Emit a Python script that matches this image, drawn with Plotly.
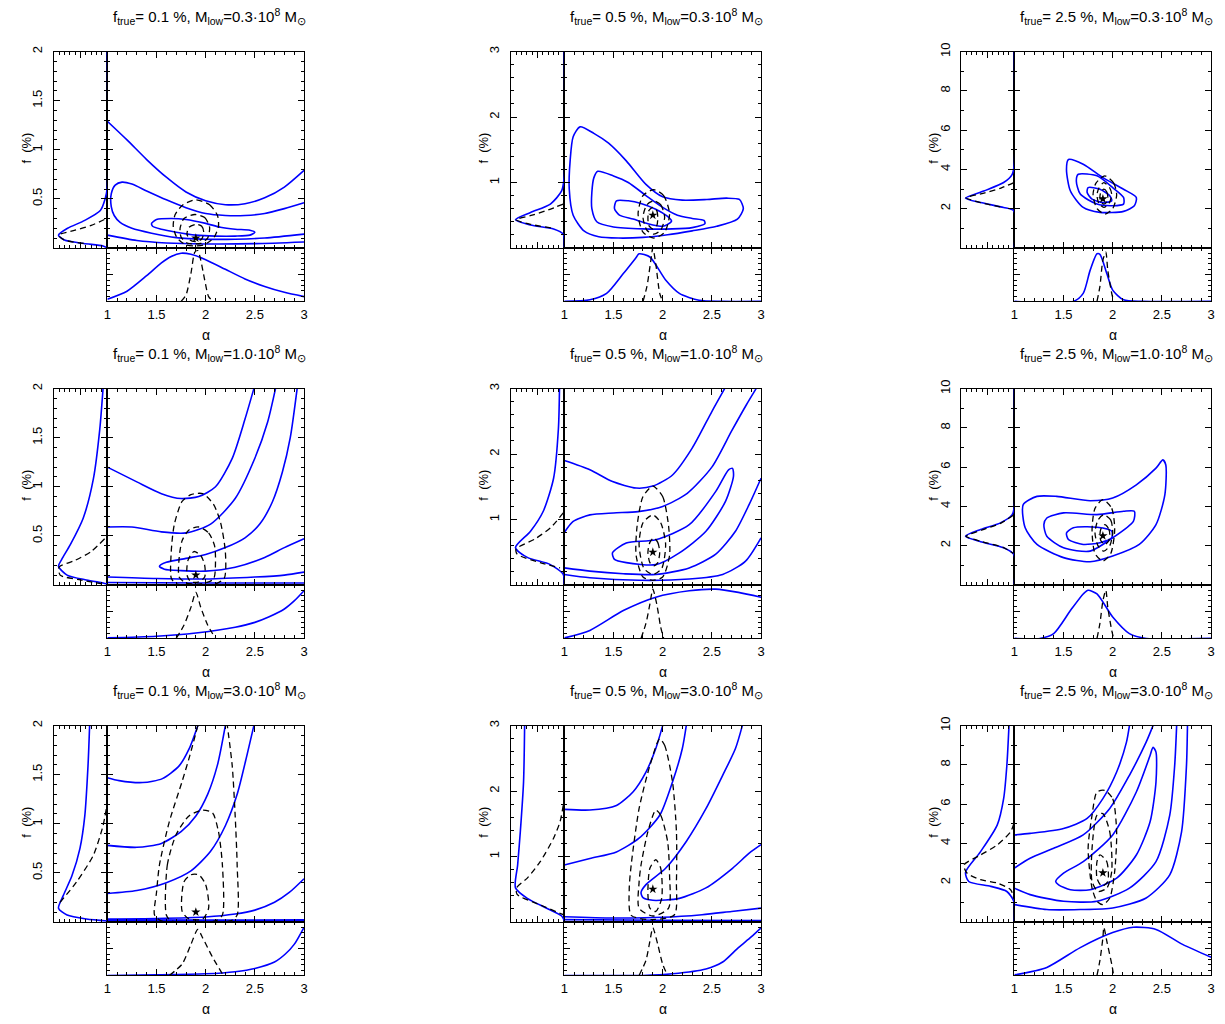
import plotly.graph_objects as go

# ---------------- data ----------------
F_TRUE = [0.1, 0.5, 2.5]
F_TRUE_TXT = ["0.1", "0.5", "2.5"]
M_LOW_TXT = ["0.3", "1.0", "3.0"]
ALPHA_TRUE = 1.9
F_MAX = [2, 3, 10]
Y_TICKS = [[0.5, 1, 1.5, 2], [1, 2, 3], [2, 4, 6, 8, 10]]
Y_TICKTEXT = [["0.5", "1", "1.5", "2"], ["1", "2", "3"], ["2", "4", "6", "8", "10"]]
Y_MINOR = [0.1, 0.2, 1.0]
X_TICKS = [1, 1.5, 2, 2.5, 3]
X_TICKTEXT = ["1", "1.5", "2", "2.5", "3"]

# ---- row 1, col 1 ----
P11_BLUE = [
    [(1.0,1.29),(1.2,1.1),(1.4,0.9),(1.6,0.72),(1.8,0.57),(2.0,0.48),(2.2,0.44),(2.4,0.45),(2.6,0.51),(2.8,0.62),(3.0,0.79)],
    [(1.0,0.13),(1.3,0.075),(1.6,0.05),(2.0,0.04),(2.5,0.043),(3.0,0.06)],
    [(3.0,0.46),(2.8,0.40),(2.6,0.35),(2.4,0.33),(2.2,0.33),(2.0,0.35),(1.8,0.41),(1.6,0.49),(1.4,0.58),(1.25,0.65),(1.15,0.67),(1.08,0.64),(1.04,0.55),(1.04,0.42),(1.07,0.33),(1.13,0.26),(1.25,0.2),(1.45,0.15),(1.7,0.105),(2.0,0.088),(2.3,0.088),(2.6,0.1),(3.0,0.14)],
    [(1.45,0.25),(1.5,0.29),(1.65,0.30),(1.8,0.29),(2.0,0.25),(2.15,0.21),(2.3,0.19),(2.45,0.18),(2.5,0.16),(2.45,0.13),(2.3,0.12),(2.1,0.12),(1.9,0.13),(1.7,0.16),(1.55,0.19),(1.46,0.22),(1.45,0.25)],
]
P11_DASH = [
    [(1.9,0.49),(2.04,0.44),(2.12,0.33),(2.13,0.22),(2.08,0.1),(1.98,0.03),(1.9,0.02),(1.8,0.03),(1.71,0.1),(1.67,0.22),(1.69,0.34),(1.77,0.44),(1.9,0.49)],
    [(1.89,0.34),(1.99,0.31),(2.04,0.21),(2.02,0.1),(1.95,0.045),(1.89,0.04),(1.81,0.05),(1.75,0.11),(1.74,0.2),(1.78,0.3),(1.89,0.34)],
    [(1.9,0.24),(1.96,0.22),(1.98,0.16),(1.96,0.09),(1.9,0.065),(1.84,0.08),(1.81,0.14),(1.83,0.21),(1.9,0.24)],
]
P11_LEFT_BLUE = [(0,2.0),(0,0.62),(0.04,0.5),(0.13,0.38),(0.42,0.28),(0.74,0.2),(0.91,0.13),(0.8,0.08),(0.44,0.045),(0.08,0.02),(0,0.0)]
P11_LEFT_DASH = [(0.44,0.045),(0.8,0.08),(0.91,0.13),(0.6,0.18),(0.3,0.23),(0.05,0.29),(0,0.31)]
P11_BOT_BLUE = [(1.0,0.04),(1.2,0.19),(1.4,0.48),(1.55,0.72),(1.65,0.84),(1.75,0.9),(1.85,0.88),(2.0,0.78),(2.2,0.6),(2.4,0.42),(2.6,0.28),(2.8,0.17),(3.0,0.09)]
P11_BOT_DASH = [(1.75,0.0),(1.80,0.12),(1.85,0.52),(1.89,0.92),(1.92,0.95),(1.95,0.77),(1.99,0.4),(2.03,0.09),(2.08,0.0)]

# ---- row 1, col 2 ----
P12_BLUE = [
    [(1.16,1.85),(1.3,1.75),(1.45,1.6),(1.63,1.33),(1.83,0.97),(2.0,0.78),(2.2,0.73),(2.45,0.74),(2.65,0.76),(2.78,0.74),(2.82,0.6),(2.76,0.44),(2.55,0.33),(2.3,0.26),(2.05,0.2),(1.8,0.16),(1.55,0.15),(1.35,0.17),(1.2,0.26),(1.09,0.5),(1.05,0.9),(1.06,1.35),(1.09,1.7),(1.16,1.85)],
    [(1.34,1.17),(1.5,1.1),(1.65,1.0),(1.83,0.8),(2.0,0.62),(2.15,0.5),(2.3,0.45),(2.42,0.42),(2.43,0.37),(2.3,0.31),(2.1,0.29),(1.8,0.29),(1.5,0.32),(1.33,0.4),(1.28,0.6),(1.28,0.85),(1.3,1.07),(1.34,1.17)],
    [(1.53,0.72),(1.65,0.72),(1.78,0.68),(1.93,0.59),(2.05,0.48),(2.09,0.41),(2.05,0.36),(2.0,0.33),(1.85,0.37),(1.7,0.44),(1.56,0.5),(1.51,0.6),(1.53,0.72)],
]
P12_DASH = [
    [(1.91,0.89),(2.01,0.8),(2.07,0.52),(2.02,0.24),(1.91,0.15),(1.8,0.24),(1.75,0.52),(1.8,0.8),(1.91,0.89)],
    [(1.91,0.72),(1.98,0.66),(2.02,0.47),(1.98,0.27),(1.91,0.21),(1.84,0.27),(1.8,0.47),(1.84,0.66),(1.91,0.72)],
    [(1.9,0.62),(1.94,0.57),(1.95,0.45),(1.94,0.34),(1.9,0.29),(1.86,0.34),(1.85,0.45),(1.86,0.57),(1.9,0.62)],
]
P12_LEFT_BLUE = [(0,3.0),(0,1.1),(0.05,0.87),(0.26,0.67),(0.63,0.54),(0.91,0.43),(0.63,0.35),(0.2,0.29),(0.02,0.21),(0,0.0)]
P12_LEFT_DASH = [(0.02,0.67),(0.3,0.58),(0.6,0.5),(0.9,0.43),(0.63,0.36),(0.2,0.3)]
P12_BOT_BLUE = [(1.0,0.0),(1.26,0.03),(1.43,0.15),(1.6,0.52),(1.73,0.82),(1.76,0.89),(1.87,0.83),(2.03,0.4),(2.17,0.15),(2.37,0.02),(2.6,0.0),(3.0,0.0)]
P12_BOT_DASH = [(1.8,0.0),(1.84,0.28),(1.88,0.77),(1.9,1.0),(1.93,0.7),(1.97,0.15),(2.0,0.0)]

# ---- row 1, col 3 ----
P13_BLUE = [
    [(1.55,4.5),(1.70,4.26),(1.9,3.58),(2.11,2.99),(2.24,2.57),(2.22,2.15),(2.11,1.86),(1.87,1.81),(1.7,2.06),(1.57,2.9),(1.53,4.0),(1.55,4.5)],
    [(1.65,3.75),(1.84,3.67),(2.0,3.07),(2.11,2.57),(2.11,2.23),(2.0,2.15),(1.84,2.23),(1.67,2.74),(1.63,3.41),(1.65,3.75)],
    [(1.75,3.07),(1.87,2.99),(1.97,2.65),(1.99,2.4),(1.9,2.31),(1.79,2.48),(1.74,2.82),(1.75,3.07)],
]
P13_DASH = [
    [(1.92,3.67),(2.01,3.3),(2.04,2.7),(2.0,2.0),(1.92,1.72),(1.84,2.0),(1.8,2.7),(1.83,3.3),(1.92,3.67)],
    [(1.91,3.33),(1.97,3.05),(1.99,2.7),(1.96,2.25),(1.91,2.06),(1.86,2.25),(1.84,2.7),(1.86,3.05),(1.91,3.33)],
    [(1.91,2.99),(1.94,2.85),(1.95,2.6),(1.94,2.35),(1.91,2.23),(1.88,2.35),(1.87,2.6),(1.88,2.85),(1.91,2.99)],
]
P13_LEFT_BLUE = [(0,10),(0,4.3),(0.04,3.75),(0.2,3.33),(0.57,2.9),(0.91,2.53),(0.63,2.31),(0.2,2.06),(0.01,1.89),(0,0)]
P13_LEFT_DASH = [(0.01,3.33),(0.25,3.05),(0.55,2.8),(0.9,2.55),(0.63,2.31),(0.2,2.06)]
P13_BOT_BLUE = [(1.0,0),(1.6,0.0),(1.7,0.15),(1.77,0.58),(1.84,0.89),(1.87,0.88),(1.94,0.52),(2.0,0.21),(2.11,0.03),(2.3,0.0),(3.0,0)]
P13_BOT_DASH = [(1.84,0),(1.87,0.28),(1.9,0.77),(1.93,0.92),(1.95,0.58),(1.99,0.15),(2.01,0)]

# ---- row 2, col 1 ----
P21_BLUE = [
    [(1.0,1.20),(1.3,1.05),(1.55,0.93),(1.75,0.88),(1.93,0.9),(2.1,1.0),(2.27,1.29),(2.4,1.69),(2.49,2.0)],
    [(1.0,0.59),(1.25,0.59),(1.55,0.54),(1.8,0.53),(2.05,0.62),(2.3,0.88),(2.5,1.29),(2.63,1.66),(2.71,2.0)],
    [(2.93,2.0),(2.86,1.5),(2.78,1.15),(2.68,0.85),(2.55,0.62),(2.4,0.48),(2.2,0.38),(2.0,0.31),(1.8,0.27),(1.6,0.23),(1.53,0.19),(1.58,0.16),(1.75,0.145),(2.0,0.14),(2.3,0.18),(2.6,0.28),(2.8,0.38),(3.0,0.47)],
    [(1.0,0.08),(1.5,0.065),(2.0,0.06),(2.5,0.08),(2.8,0.1),(3.0,0.13)],
    [(1.0,0.025),(2.0,0.02),(3.0,0.02)],
]
P21_DASH = [
    [(1.97,0.93),(2.08,0.82),(2.15,0.64),(2.2,0.34),(2.19,0.07),(2.1,0.01),(1.9,0.0),(1.7,0.01),(1.65,0.07),(1.65,0.34),(1.68,0.61),(1.76,0.85),(1.85,0.92),(1.97,0.93)],
    [(1.93,0.59),(2.03,0.53),(2.09,0.4),(2.1,0.24),(2.08,0.06),(1.95,0.01),(1.8,0.02),(1.73,0.08),(1.73,0.27),(1.76,0.45),(1.83,0.56),(1.93,0.59)],
    [(1.88,0.34),(1.95,0.3),(1.99,0.2),(1.99,0.08),(1.93,0.03),(1.85,0.03),(1.81,0.1),(1.82,0.25),(1.88,0.34)],
]
P21_LEFT_BLUE = [(0.08,2.0),(0.14,1.59),(0.26,1.08),(0.45,0.68),(0.69,0.41),(0.85,0.26),(0.91,0.19),(0.75,0.1),(0.39,0.05),(0.08,0.02),(0,0.01)]
P21_LEFT_DASH = [(0.05,0.47),(0.3,0.34),(0.6,0.25),(0.9,0.18),(0.88,0.1),(0.5,0.05),(0.1,0.01)]
P21_BOT_BLUE = [(1.0,0.01),(1.5,0.04),(1.9,0.1),(2.3,0.21),(2.5,0.3),(2.64,0.4),(2.8,0.55),(2.9,0.7),(3.0,0.89)]
P21_BOT_DASH = [(1.7,0),(1.78,0.25),(1.85,0.58),(1.9,0.86),(1.95,0.58),(2.02,0.25),(2.1,0.0)]

# ---- row 2, col 2 ----
P22_BLUE = [
    [(1.0,1.9),(1.26,1.76),(1.49,1.58),(1.73,1.48),(1.9,1.51),(2.1,1.68),(2.3,2.09),(2.5,2.65),(2.63,3.0)],
    [(1.0,0.80),(1.09,0.97),(1.26,1.07),(1.5,1.1),(1.75,1.12),(2.0,1.2),(2.25,1.4),(2.5,1.8),(2.7,2.35),(2.85,2.75),(2.95,3.0)],
    [(1.49,0.49),(1.63,0.64),(1.93,0.69),(2.27,0.92),(2.54,1.43),(2.67,1.76),(2.71,1.78),(2.72,1.66),(2.64,1.28),(2.44,0.82),(2.17,0.49),(1.93,0.31),(1.63,0.34),(1.51,0.39),(1.49,0.49)],
    [(1.0,0.26),(1.26,0.21),(1.6,0.17),(1.93,0.16),(2.27,0.26),(2.54,0.47),(2.74,0.82),(2.88,1.23),(3.0,1.63)],
    [(1.0,0.16),(1.26,0.11),(1.76,0.07),(2.27,0.09),(2.61,0.16),(2.84,0.36),(3.0,0.72)],
]
P22_DASH = [
    [(1.9,1.51),(2.0,1.35),(2.06,0.9),(2.07,0.45),(2.0,0.12),(1.9,0.07),(1.8,0.12),(1.73,0.45),(1.74,0.9),(1.8,1.35),(1.9,1.51)],
    [(1.9,1.07),(1.98,0.95),(2.03,0.62),(1.99,0.25),(1.9,0.16),(1.81,0.25),(1.76,0.62),(1.8,0.95),(1.9,1.07)],
    [(1.91,0.72),(1.95,0.65),(1.97,0.5),(1.95,0.34),(1.91,0.29),(1.87,0.34),(1.85,0.5),(1.87,0.65),(1.91,0.72)],
]
P22_LEFT_BLUE = [(0.09,3.0),(0.11,2.39),(0.2,1.63),(0.39,1.13),(0.63,0.82),(0.91,0.57),(0.69,0.42),(0.26,0.31),(0.02,0.16),(0,0.0)]
P22_LEFT_DASH = [(0.02,1.1),(0.25,0.88),(0.55,0.7),(0.9,0.55),(0.88,0.47),(0.45,0.34),(0.08,0.26)]
P22_BOT_BLUE = [(1.0,0.01),(1.26,0.15),(1.6,0.52),(1.93,0.77),(2.27,0.89),(2.54,0.92),(2.77,0.86),(3.0,0.77)]
P22_BOT_DASH = [(1.78,0),(1.83,0.28),(1.87,0.64),(1.9,0.92),(1.94,0.64),(1.98,0.21),(2.01,0)]

# ---- row 2, col 3 ----
P23_BLUE = [
    [(1.09,4.09),(1.23,4.51),(1.43,4.51),(1.77,4.29),(2.0,4.43),(2.24,5.1),(2.44,5.95),(2.51,6.37),(2.54,6.11),(2.53,4.59),(2.44,3.07),(2.27,2.06),(2.0,1.47),(1.77,1.18),(1.5,1.39),(1.23,2.06),(1.11,2.91),(1.09,4.09)],
    [(1.33,3.41),(1.5,3.67),(1.84,3.58),(2.11,3.75),(2.22,3.75),(2.21,3.24),(2.0,2.4),(1.77,1.72),(1.5,1.89),(1.33,2.48),(1.3,3.07),(1.33,3.41)],
    [(1.53,2.65),(1.6,2.91),(1.84,2.94),(1.99,2.74),(1.99,2.4),(1.87,2.15),(1.7,2.06),(1.55,2.31),(1.53,2.65)],
]
P23_DASH = [
    [(1.9,4.34),(1.99,3.9),(2.02,2.8),(1.98,1.6),(1.9,1.22),(1.82,1.6),(1.79,2.8),(1.82,3.9),(1.9,4.34)],
    [(1.91,3.58),(1.98,3.3),(2.0,2.65),(1.97,2.0),(1.91,1.72),(1.85,2.0),(1.82,2.65),(1.85,3.3),(1.91,3.58)],
    [(1.92,3.07),(1.96,2.85),(1.97,2.55),(1.96,2.25),(1.92,2.06),(1.88,2.25),(1.87,2.55),(1.88,2.85),(1.92,3.07)],
]
P23_LEFT_BLUE = [(0,10),(0,4.0),(0.04,3.58),(0.26,3.16),(0.63,2.82),(0.91,2.48),(0.63,2.2),(0.2,1.89),(0.01,1.55),(0,0)]
P23_LEFT_DASH = [(0.02,3.55),(0.25,3.15),(0.6,2.8),(0.9,2.48),(0.6,2.2),(0.2,1.9),(0.02,1.6)]
P23_BOT_BLUE = [(1,0),(1.26,0),(1.4,0.09),(1.57,0.52),(1.7,0.83),(1.75,0.9),(1.84,0.83),(2.0,0.4),(2.17,0.09),(2.34,0),(3,0)]
P23_BOT_DASH = [(1.84,0),(1.87,0.28),(1.9,0.7),(1.93,0.9),(1.95,0.58),(1.99,0.15),(2.01,0)]

# ---- row 3, col 1 ----
P31_BLUE = [
    [(1.0,1.47),(1.12,1.44),(1.36,1.42),(1.56,1.46),(1.73,1.59),(1.83,1.76),(1.92,2.0)],
    [(1.0,0.78),(1.3,0.76),(1.55,0.8),(1.75,0.92),(1.9,1.08),(2.02,1.3),(2.12,1.6),(2.2,2.0)],
    [(1.0,0.29),(1.3,0.32),(1.6,0.4),(1.85,0.52),(2.05,0.72),(2.2,0.98),(2.32,1.3),(2.42,1.7),(2.49,2.0)],
    [(1.0,0.03),(1.5,0.035),(2.0,0.05),(2.3,0.08),(2.5,0.12),(2.7,0.2),(2.85,0.3),(3.0,0.44)],
    [(1.0,0.015),(2.0,0.012),(3.0,0.012)],
    [(1.0,0.022),(2.0,0.018),(3.0,0.022)],
]
P31_DASH = [
    [(1.92,2.0),(1.84,1.7),(1.76,1.43),(1.63,1.02),(1.53,0.58),(1.5,0.3),(1.48,0.07),(1.55,0.01),(2.25,0.01),(2.32,0.07),(2.32,0.58),(2.3,1.08),(2.27,1.59),(2.22,2.0)],
    [(1.6,0.07),(1.61,0.58),(1.70,0.89),(1.83,1.08),(1.97,1.14),(2.07,1.11),(2.13,0.92),(2.17,0.58),(2.17,0.07),(2.1,0.01),(1.65,0.01),(1.6,0.07)],
    [(1.76,0.11),(1.78,0.41),(1.85,0.48),(1.93,0.48),(2.0,0.38),(2.03,0.14),(1.97,0.03),(1.83,0.03),(1.76,0.11)],
]
P31_LEFT_BLUE = [(0.33,2.0),(0.36,1.59),(0.42,1.08),(0.51,0.75),(0.66,0.47),(0.82,0.27),(0.91,0.14),(0.75,0.07),(0.39,0.03),(0,0.01)]
P31_LEFT_DASH = [(0.02,1.15),(0.08,0.98),(0.26,0.68),(0.57,0.41),(0.88,0.2)]
P31_BOT_BLUE = [(1.0,0.0),(1.5,0.01),(2.0,0.03),(2.3,0.07),(2.5,0.13),(2.7,0.25),(2.81,0.4),(2.9,0.58),(3.0,0.9)]
P31_BOT_DASH = [(1.63,0),(1.76,0.21),(1.85,0.58),(1.92,0.86),(1.97,0.7),(2.07,0.34),(2.17,0.03)]

# ---- row 3, col 2 ----
P32_BLUE = [
    [(1.0,1.72),(1.26,1.71),(1.53,1.78),(1.7,1.99),(1.83,2.29),(1.93,2.65),(2.0,3.0)],
    [(1.0,0.87),(1.26,0.97),(1.53,1.07),(1.76,1.28),(1.97,1.63),(2.1,2.14),(2.2,2.65),(2.24,3.0)],
    [(2.81,3.0),(2.74,2.65),(2.61,2.24),(2.44,1.73),(2.24,1.23),(2.03,0.82),(1.83,0.57),(1.78,0.45),(1.8,0.37),(1.9,0.33),(2.17,0.36),(2.44,0.52),(2.71,0.82),(2.88,1.05),(3.0,1.18)],
    [(1.0,0.08),(1.5,0.06),(2.0,0.07),(2.4,0.11),(2.7,0.16),(3.0,0.21)],
    [(1.0,0.035),(2.0,0.025),(3.0,0.02)],
]
P32_DASH = [
    [(1.97,2.8),(2.02,2.7),(2.1,2.14),(2.14,1.38),(2.14,0.62),(2.12,0.11),(1.9,0.035),(1.68,0.1),(1.66,0.5),(1.68,0.87),(1.76,1.73),(1.87,2.39),(1.97,2.8)],
    [(1.93,1.71),(1.98,1.63),(2.05,1.23),(2.07,0.72),(2.06,0.21),(1.9,0.09),(1.76,0.21),(1.76,0.6),(1.78,0.87),(1.85,1.38),(1.93,1.71)],
    [(1.93,0.95),(1.98,0.82),(1.99,0.36),(1.93,0.16),(1.87,0.21),(1.85,0.42),(1.87,0.82),(1.93,0.95)],
]
P32_LEFT_BLUE = [(0.74,3.0),(0.76,2.14),(0.82,1.38),(0.87,0.87),(0.91,0.52),(0.69,0.36),(0.33,0.21),(0.05,0.09),(0,0.02)]
P32_LEFT_DASH = [(0.02,1.78),(0.08,1.53),(0.2,1.28),(0.45,0.92),(0.69,0.67),(0.89,0.52),(0.88,0.42),(0.45,0.26),(0.02,0.11)]
P32_BOT_BLUE = [(1.0,0),(1.8,0.0),(2.1,0.03),(2.44,0.12),(2.61,0.25),(2.77,0.52),(2.9,0.72),(3.0,0.89)]
P32_BOT_DASH = [(1.76,0),(1.83,0.28),(1.87,0.64),(1.9,0.89),(1.95,0.58),(2.0,0.21),(2.05,0)]

# ---- row 3, col 3 ----
P33_BLUE = [
    [(1.0,4.43),(1.16,4.51),(1.5,4.76),(1.74,5.27),(1.9,6.28),(2.04,7.64),(2.14,9.16),(2.17,10.0)],
    [(1.0,2.74),(1.16,3.24),(1.4,3.75),(1.7,4.43),(1.97,5.78),(2.17,7.47),(2.34,9.16),(2.41,10.0)],
    [(1.42,2.06),(1.5,2.48),(1.7,3.07),(2.0,4.43),(2.24,6.62),(2.38,8.48),(2.41,8.9),(2.44,8.65),(2.44,7.13),(2.38,5.1),(2.24,3.41),(2.04,2.23),(1.77,1.64),(1.57,1.64),(1.45,1.89),(1.42,2.06)],
    [(1.0,1.72),(1.16,1.39),(1.5,1.05),(1.84,1.05),(2.17,1.72),(2.44,3.07),(2.58,5.44),(2.63,7.97),(2.65,10.0)],
    [(1.0,0.88),(1.33,0.63),(1.67,0.63),(2.0,0.71),(2.34,1.22),(2.58,2.4),(2.7,4.59),(2.75,7.97),(2.76,10.0)],
]
P33_DASH = [
    [(1.92,6.7),(2.0,6.28),(2.04,4.59),(2.02,2.57),(1.97,1.22),(1.9,0.88),(1.84,1.05),(1.79,1.72),(1.75,3.75),(1.79,5.44),(1.84,6.62),(1.92,6.7)],
    [(1.9,5.52),(1.97,4.59),(1.99,2.57),(1.94,1.72),(1.85,1.55),(1.79,2.06),(1.79,3.75),(1.84,5.44),(1.9,5.52)],
    [(1.87,3.41),(1.94,3.07),(1.95,2.06),(1.89,1.81),(1.84,2.23),(1.84,3.07),(1.87,3.41)],
]
P33_LEFT_BLUE = [(0.1,10),(0.14,7.97),(0.2,6.28),(0.32,4.93),(0.63,3.58),(0.91,2.53),(0.85,2.06),(0.44,1.81),(0.14,1.55),(0.01,1.05),(0,0)]
P33_LEFT_DASH = [(0.01,5.0),(0.07,4.59),(0.32,3.92),(0.63,3.41),(0.94,2.9),(0.88,2.48),(0.63,2.15),(0.32,1.98),(0.07,1.64),(0.01,1.2)]
P33_BOT_BLUE = [(1.0,0.01),(1.33,0.15),(1.67,0.52),(2.0,0.8),(2.21,0.9),(2.44,0.86),(2.71,0.58),(3.0,0.34)]
P33_BOT_DASH = [(1.84,0),(1.87,0.28),(1.9,0.7),(1.91,0.9),(1.94,0.64),(1.99,0.21),(2.01,0)]

PANELS = [
    [(P11_BLUE, P11_DASH, P11_LEFT_BLUE, P11_LEFT_DASH, P11_BOT_BLUE, P11_BOT_DASH),
     (P12_BLUE, P12_DASH, P12_LEFT_BLUE, P12_LEFT_DASH, P12_BOT_BLUE, P12_BOT_DASH),
     (P13_BLUE, P13_DASH, P13_LEFT_BLUE, P13_LEFT_DASH, P13_BOT_BLUE, P13_BOT_DASH)],
    [(P21_BLUE, P21_DASH, P21_LEFT_BLUE, P21_LEFT_DASH, P21_BOT_BLUE, P21_BOT_DASH),
     (P22_BLUE, P22_DASH, P22_LEFT_BLUE, P22_LEFT_DASH, P22_BOT_BLUE, P22_BOT_DASH),
     (P23_BLUE, P23_DASH, P23_LEFT_BLUE, P23_LEFT_DASH, P23_BOT_BLUE, P23_BOT_DASH)],
    [(P31_BLUE, P31_DASH, P31_LEFT_BLUE, P31_LEFT_DASH, P31_BOT_BLUE, P31_BOT_DASH),
     (P32_BLUE, P32_DASH, P32_LEFT_BLUE, P32_LEFT_DASH, P32_BOT_BLUE, P32_BOT_DASH),
     (P33_BLUE, P33_DASH, P33_LEFT_BLUE, P33_LEFT_DASH, P33_BOT_BLUE, P33_BOT_DASH)],
]

# ---------------- layout geometry (pixels) ----------------
W, H = 1225, 1024
COL_LEFT = [104, 564, 1017]
ROW_TOP = [43, 383, 723]
MAIN = 198
MARG = 54
FONT = "Liberation Sans, Arial, sans-serif"
BLUE = "#0000ff"
NB = "\u00a0"

def xd(a, b):
    return [a / W, b / W]

def yd(top, bottom):
    return [1 - bottom / H, 1 - top / H]

fig = go.Figure()
layout = dict(width=W, height=H, margin=dict(l=0, r=0, t=0, b=0),
              paper_bgcolor="white", plot_bgcolor="white", showlegend=False,
              font=dict(family=FONT, size=13, color="black"))
annotations = []

def ax_base():
    return dict(showline=True, linecolor="black", linewidth=1, mirror="allticks",
                ticks="inside", tickcolor="black", ticklen=6, tickwidth=1,
                showgrid=False, zeroline=False, fixedrange=True)

def minor(dt, t0=0):
    return dict(ticks="inside", ticklen=3, tickcolor="black", tickwidth=1,
                dtick=dt, tick0=t0, showgrid=False)

def name(kind, n):
    return kind if n == 1 else f"{kind}{n}"

def add_line(pts, xa, ya, dashed):
    xs = [p[0] for p in pts]
    ys = [p[1] for p in pts]
    line = dict(color="black" if dashed else BLUE, width=1.3 if dashed else 1.6,
                shape="spline", smoothing=0.7)
    if dashed:
        line["dash"] = "6px,4px"
    fig.add_trace(go.Scatter(x=xs, y=ys, mode="lines", line=line,
                             xaxis=xa, yaxis=ya, hoverinfo="skip"))

for r in range(3):
    for c in range(3):
        p = r * 3 + c
        nm, nl, nb = 3 * p + 1, 3 * p + 2, 3 * p + 3
        L, T = COL_LEFT[c], ROW_TOP[r]
        blue, dash, lblue, ldash, bblue, bdash = PANELS[r][c]
        fmax = F_MAX[c]

        # main
        xa = ax_base(); xa.update(domain=xd(L, L + MAIN), range=[1, 3], tickvals=X_TICKS,
                                  showticklabels=False, minor=minor(0.1, 1), anchor=name("y", nm))
        ya = ax_base(); ya.update(domain=yd(T, T + MAIN), range=[0, fmax], tickvals=Y_TICKS[c],
                                  showticklabels=False, minor=minor(Y_MINOR[c]), anchor=name("x", nm))
        layout[name("xaxis", nm)] = xa
        layout[name("yaxis", nm)] = ya
        # left marginal
        xl = ax_base(); xl.update(domain=xd(L - MARG, L), range=[1, 0], dtick=0.5, tick0=0,
                                  showticklabels=False, minor=minor(0.1), anchor=name("y", nl))
        yl = ax_base(); yl.update(domain=yd(T, T + MAIN), range=[0, fmax], tickvals=Y_TICKS[c],
                                  ticktext=Y_TICKTEXT[c], tickangle=-90, showticklabels=True,
                                  ticklabelstandoff=5,
                                  tickfont=dict(family=FONT, size=13),
                                  minor=minor(Y_MINOR[c]), anchor=name("x", nl))
        layout[name("xaxis", nl)] = xl
        layout[name("yaxis", nl)] = yl
        # bottom marginal
        xb = ax_base(); xb.update(domain=xd(L, L + MAIN), range=[1, 3], tickvals=X_TICKS,
                                  ticktext=X_TICKTEXT, showticklabels=True, ticklabelstandoff=1,
                                  tickfont=dict(family=FONT, size=13),
                                  minor=minor(0.1, 1), anchor=name("y", nb))
        yb = ax_base(); yb.update(domain=yd(T + MAIN, T + MAIN + MARG), range=[0, 1], dtick=0.5,
                                  tick0=0, showticklabels=False, minor=minor(0.1), anchor=name("x", nb))
        layout[name("xaxis", nb)] = xb
        layout[name("yaxis", nb)] = yb

        for pts in blue:
            add_line(pts, name("x", nm), name("y", nm), False)
        for pts in dash:
            add_line(pts, name("x", nm), name("y", nm), True)
        fig.add_trace(go.Scatter(x=[ALPHA_TRUE], y=[F_TRUE[c]], mode="markers",
                                 marker=dict(symbol="star", size=7, color="black"),
                                 xaxis=name("x", nm), yaxis=name("y", nm), hoverinfo="skip"))
        add_line(lblue, name("x", nl), name("y", nl), False)
        add_line(ldash, name("x", nl), name("y", nl), True)
        add_line(bblue, name("x", nb), name("y", nb), False)
        add_line(bdash, name("x", nb), name("y", nb), True)

        # texts
        title = (f"f<sub>true</sub>={NB}{F_TRUE_TXT[c]}{NB}%,{NB}M<sub>low</sub>={M_LOW_TXT[r]}·10<sup>8</sup>{NB}"
                 f"M<sub>⊙</sub>")
        annotations.append(dict(text=title, x=(L + MAIN / 2 + 4) / W, y=1 - (T - 35) / H,
                                xref="paper", yref="paper", showarrow=False,
                                xanchor="center", yanchor="middle",
                                font=dict(family=FONT, size=15)))
        annotations.append(dict(text="α", x=(L + MAIN / 2) / W, y=1 - (T + 286) / H,
                                xref="paper", yref="paper", showarrow=False,
                                xanchor="center", yanchor="middle",
                                font=dict(family=FONT, size=14)))
        annotations.append(dict(text=f"f{NB}{NB}(%)", x=(L - 81) / W, y=1 - (T + 97) / H,
                                xref="paper", yref="paper", showarrow=False, textangle=-90,
                                xanchor="center", yanchor="middle",
                                font=dict(family=FONT, size=13)))

layout["annotations"] = annotations
fig.update_layout(**layout)
fig.write_html("out.html")
